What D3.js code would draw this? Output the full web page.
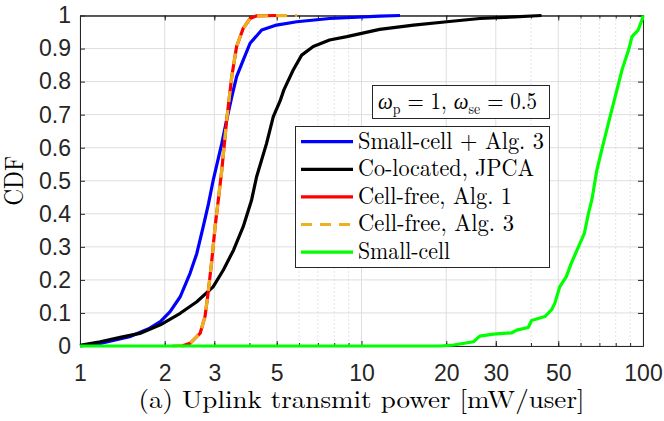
<!DOCTYPE html>
<html>
<head>
<meta charset="utf-8">
<script src="https://cdn.jsdelivr.net/npm/d3@7"></script>
<style>
  body { margin: 0; background: #fff; }
  svg { display: block; }
</style>
</head>
<body>
<div id="chart"></div>
<script>
// CDF curves, values (x in mW/user, y = CDF)
var blueX = [1, 1.18, 1.5, 1.77, 1.93, 2.09, 2.27, 2.46, 2.6, 2.74, 2.86, 2.97, 3.19, 3.32, 3.46, 3.6, 3.8, 4.02, 4.42, 4.99, 5.89, 7.7, 11.6, 13.7];
var blueY = [0, 0.008, 0.028, 0.054, 0.074, 0.104, 0.149, 0.22, 0.28, 0.361, 0.43, 0.50, 0.613, 0.684, 0.754, 0.815, 0.865, 0.916, 0.956, 0.971, 0.981, 0.991, 0.998, 1];

var blackX = [1, 1.18, 1.39, 1.63, 1.93, 2.27, 2.6, 2.97, 3.23, 3.51, 3.8, 4.07, 4.24, 4.6, 4.86, 5.13, 5.3, 5.72, 6.13, 6.74, 7.7, 8.87, 11.6, 15.3, 20.1, 26.3, 35, 43.6];
var blackY = [0.002, 0.013, 0.026, 0.038, 0.064, 0.099, 0.134, 0.179, 0.23, 0.29, 0.361, 0.442, 0.512, 0.613, 0.694, 0.74, 0.775, 0.835, 0.88, 0.906, 0.926, 0.936, 0.958, 0.971, 0.981, 0.991, 0.996, 1];

var redX = [2.3, 2.46, 2.67, 2.78, 2.86, 2.94, 3.02, 3.1, 3.19, 3.32, 3.46, 3.6, 3.8, 4.02, 4.24, 5.0];
var redY = [0, 0.008, 0.038, 0.089, 0.169, 0.26, 0.361, 0.442, 0.533, 0.684, 0.815, 0.906, 0.961, 0.991, 0.999, 1];

var orangeX = [2.12, 2.3, 2.46, 2.67, 2.78, 2.86, 2.94, 3.02, 3.1, 3.19, 3.32, 3.46, 3.6, 3.8, 4.02, 4.24, 5.9];
var orangeY = [0, 0.002, 0.008, 0.038, 0.089, 0.169, 0.26, 0.361, 0.442, 0.533, 0.684, 0.815, 0.906, 0.961, 0.991, 0.999, 1];

var greenX = [1, 19, 21.2, 25, 26.3, 29.4, 34.2, 35.6, 39.1, 40.2, 44.8, 47.3, 48.6, 50.6, 53.4, 55.6, 58.7, 61.9, 64, 65.8, 68.6, 72.3, 76.4, 80.8, 84.2, 88.9, 91.4, 96.1, 99.5, 100];
var greenY = [0, 0, 0.003, 0.013, 0.03, 0.036, 0.04, 0.048, 0.056, 0.077, 0.089, 0.109, 0.129, 0.179, 0.21, 0.25, 0.296, 0.341, 0.401, 0.442, 0.533, 0.613, 0.694, 0.775, 0.835, 0.896, 0.936, 0.956, 0.99, 1];

var legendNames = ["Small-cell + Alg. 3", "Co-located, JPCA", "Cell-free, Alg. 1", "Cell-free, Alg. 3", "Small-cell"];
var xMajorTicks = [1, 2, 3, 5, 10, 20, 30, 50, 100];
var xMinorTicks = [4, 6, 7, 8, 9, 40, 60, 70, 80, 90];
var yTicks = [0, 0.1, 0.2, 0.3, 0.4, 0.5, 0.6, 0.7, 0.8, 0.9, 1];

var W = 664, H = 421;
var pLeft = 80, pRight = 643, pTop = 15.5, pBottom = 346;
var axisCol = "#262626";
var serif = "'Latin Modern Roman', 'CMU Serif', 'Liberation Serif', serif";
var sans = "'Liberation Sans', Arial, Helvetica, sans-serif";

var svg = d3.select("#chart").append("svg")
  .attr("width", W)
  .attr("height", H);

var x = d3.scaleLog().domain([1, 100]).range([pLeft, pRight]);
var y = d3.scaleLinear().domain([0, 1]).range([pBottom, pTop]);

// grid lines
var grid = svg.append("g");
grid.selectAll(".hg").data(yTicks).enter().append("line")
  .attr("x1", pLeft).attr("x2", pRight)
  .attr("y1", function(d) { return y(d); })
  .attr("y2", function(d) { return y(d); })
  .attr("stroke", "#dedede").attr("stroke-width", 1);
grid.selectAll(".vg").data(xMajorTicks).enter().append("line")
  .attr("y1", pTop).attr("y2", pBottom)
  .attr("x1", function(d) { return x(d); })
  .attr("x2", function(d) { return x(d); })
  .attr("stroke", "#dedede").attr("stroke-width", 1);
grid.selectAll(".mg").data(xMinorTicks).enter().append("line")
  .attr("y1", pTop).attr("y2", pBottom)
  .attr("x1", function(d) { return x(d); })
  .attr("x2", function(d) { return x(d); })
  .attr("stroke", "#c8c8c8").attr("stroke-width", 1)
  .attr("stroke-dasharray", "1,3");

// axes (ticks inward, like matlab)
var fmtY = function(d) { return String(+d.toFixed(1)); };
var allMinor = [2,3,4,5,6,7,8,9,20,30,40,50,60,70,80,90];

var gB = svg.append("g").attr("transform", "translate(0," + pBottom + ")")
  .call(d3.axisBottom(x).tickValues(xMajorTicks).tickFormat(d3.format("d"))
    .tickSizeInner(-5).tickSizeOuter(0).tickPadding(19));
var gBm = svg.append("g").attr("transform", "translate(0," + pBottom + ")")
  .call(d3.axisBottom(x).tickValues(allMinor).tickFormat("")
    .tickSizeInner(-3).tickSizeOuter(0));
var gT = svg.append("g").attr("transform", "translate(0," + pTop + ")")
  .call(d3.axisTop(x).tickValues(xMajorTicks).tickFormat("")
    .tickSizeInner(-5).tickSizeOuter(0));
var gTm = svg.append("g").attr("transform", "translate(0," + pTop + ")")
  .call(d3.axisTop(x).tickValues(allMinor).tickFormat("")
    .tickSizeInner(-3).tickSizeOuter(0));
var gL = svg.append("g").attr("transform", "translate(" + pLeft + ",0)")
  .call(d3.axisLeft(y).tickValues(yTicks).tickFormat(fmtY)
    .tickSizeInner(-5).tickSizeOuter(0).tickPadding(9));
var gR = svg.append("g").attr("transform", "translate(" + pRight + ",0)")
  .call(d3.axisRight(y).tickValues(yTicks).tickFormat("")
    .tickSizeInner(-5).tickSizeOuter(0));

// unlabelled axes: drop their empty text nodes
[gBm, gT, gTm, gR].forEach(function(g) { g.selectAll("text").remove(); });

[gB, gBm, gT, gTm, gL, gR].forEach(function(g) {
  g.select(".domain").attr("stroke", axisCol);
  g.selectAll(".tick line").attr("stroke", axisCol);
  g.selectAll("text").attr("fill", axisCol)
    .style("font-family", sans).style("font-size", "23px");
});

// curves
var line = d3.line()
  .x(function(d) { return x(d[0]); })
  .y(function(d) { return y(d[1]); });

var series = [
  { xs: blueX, ys: blueY, color: "#0000ff", dash: null },
  { xs: blackX, ys: blackY, color: "#000000", dash: null },
  { xs: redX, ys: redY, color: "#ff0000", dash: null },
  { xs: orangeX, ys: orangeY, color: "#edb120", dash: "11,8" },
  { xs: greenX, ys: greenY, color: "#00ff00", dash: null }
];

series.forEach(function(s) {
  var pts = s.xs.map(function(v, i) { return [v, s.ys[i]]; });
  svg.append("path")
    .datum(pts)
    .attr("d", line)
    .attr("fill", "none")
    .attr("stroke", s.color)
    .attr("stroke-width", 3.2)
    .attr("stroke-linejoin", "round")
    .attr("stroke-dasharray", s.dash);
});

// annotation box
svg.append("rect")
  .attr("x", 372.5).attr("y", 85.5).attr("width", 177).attr("height", 33)
  .attr("fill", "#fff").attr("stroke", axisCol).attr("stroke-width", 1);
var ann = svg.append("text")
  .attr("x", 378).attr("y", 108.5)
  .attr("textLength", 159).attr("lengthAdjust", "spacingAndGlyphs")
  .style("font-family", serif).style("font-size", "24px").attr("fill", "#000");
ann.append("tspan").style("font-style", "italic").text("ω");
ann.append("tspan").attr("dy", 5).style("font-size", "16px").text("p");
ann.append("tspan").attr("dy", -5).text(" = 1, ");
ann.append("tspan").style("font-style", "italic").text("ω");
ann.append("tspan").attr("dy", 5).style("font-size", "16px").text("se");
ann.append("tspan").attr("dy", -5).text(" = 0.5");

// legend
var lg = svg.append("g");
lg.append("rect")
  .attr("x", 295.5).attr("y", 126.5).attr("width", 254).attr("height", 141)
  .attr("fill", "#fff").attr("stroke", axisCol).attr("stroke-width", 1);
var legendW = [186, 176, 154, 156, 92];
legendNames.forEach(function(name, i) {
  var ly = 141.7 + i * 27.6;
  var s = series[i];
  lg.append("line")
    .attr("x1", 301).attr("x2", 353)
    .attr("y1", ly).attr("y2", ly)
    .attr("stroke", s.color).attr("stroke-width", 3.2)
    .attr("stroke-dasharray", s.dash);
  lg.append("text")
    .attr("x", 358).attr("y", ly + 6.8)
    .attr("textLength", legendW[i]).attr("lengthAdjust", "spacingAndGlyphs")
    .style("font-family", serif).style("font-size", "24px").attr("fill", "#000")
    .text(name);
});

// axis labels
svg.append("text")
  .attr("x", (pLeft + pRight) / 2).attr("y", 408)
  .attr("text-anchor", "middle")
  .attr("textLength", 446).attr("lengthAdjust", "spacingAndGlyphs")
  .style("font-family", serif).style("font-size", "25px").attr("fill", "#000")
  .text("(a) Uplink transmit power [mW/user]");

svg.append("text")
  .attr("transform", "translate(23," + ((pTop + pBottom) / 2) + ") rotate(-90)")
  .attr("text-anchor", "middle")
  .attr("textLength", 50).attr("lengthAdjust", "spacingAndGlyphs")
  .style("font-family", serif).style("font-size", "27px").attr("fill", "#000")
  .text("CDF");
</script>
</body>
</html>
